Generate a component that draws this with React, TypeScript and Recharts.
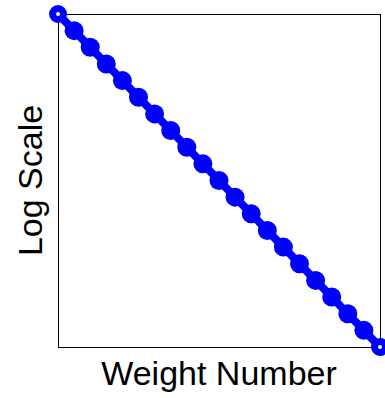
import { LineChart, Line, XAxis, YAxis, ReferenceArea } from "recharts";

document.body.style.margin = "0";

// weight index and its value (log axis, no ticks shown)
const weightNumbers = [0, 1, 2, 3, 4, 5, 6, 7, 8, 9, 10, 11, 12, 13, 14, 15, 16, 17, 18, 19, 20];
const logValues = [
  1, 1e-1, 1e-2, 1e-3, 1e-4, 1e-5, 1e-6, 1e-7, 1e-8, 1e-9, 1e-10,
  1e-11, 1e-12, 1e-13, 1e-14, 1e-15, 1e-16, 1e-17, 1e-18, 1e-19, 1e-20,
];

const data = weightNumbers.map((n, i) => ({ n, v: logValues[i] }));
const FONT = "Liberation Sans, Arial, sans-serif";

const renderDot = (props: any) => {
  const { cx, cy, index } = props;
  const isEnd = index === 0 || index === data.length - 1;
  if (isEnd) {
    return <circle key={index} cx={cx} cy={cy} r={5.5} fill="#fff" stroke="#0000ff" strokeWidth={7} />;
  }
  return <circle key={index} cx={cx} cy={cy} r={9.5} fill="#0000ff" stroke="none" />;
};

export default function App() {
  return (
    <LineChart width={385} height={398} data={data} margin={{ top: 14, right: 5, bottom: 0, left: 0 }}>
      <XAxis
        dataKey="n"
        type="number"
        domain={[0, 20]}
        height={51}
        tick={false}
        tickLine={false}
        axisLine={false}
        label={{
          value: "Weight Number",
          position: "insideBottom",
          offset: 13,
          fill: "#000",
          fontSize: 34,
          fontFamily: FONT,
        }}
      />
      <YAxis
        scale="log"
        domain={[1e-20, 1]}
        width={58}
        tick={false}
        tickLine={false}
        axisLine={false}
        label={(p: any) => {
          const { x, y, height } = p.viewBox;
          return (
            <text
              transform={`translate(${x + 42},${y + height / 2}) rotate(-90)`}
              textAnchor="middle"
              fill="#000"
              fontSize={34}
              fontFamily={FONT}
            >
              Log Scale
            </text>
          );
        }}
      />
      <ReferenceArea
        x1={0}
        x2={20}
        y1={1e-20}
        y2={1}
        fill="none"
        stroke="#000"
        strokeWidth={1}
        shapeRendering="crispEdges"
        ifOverflow="visible"
      />
      <Line
        type="linear"
        dataKey="v"
        stroke="#0000ff"
        strokeWidth={8}
        dot={renderDot}
        isAnimationActive={false}
      />
    </LineChart>
  );
}
